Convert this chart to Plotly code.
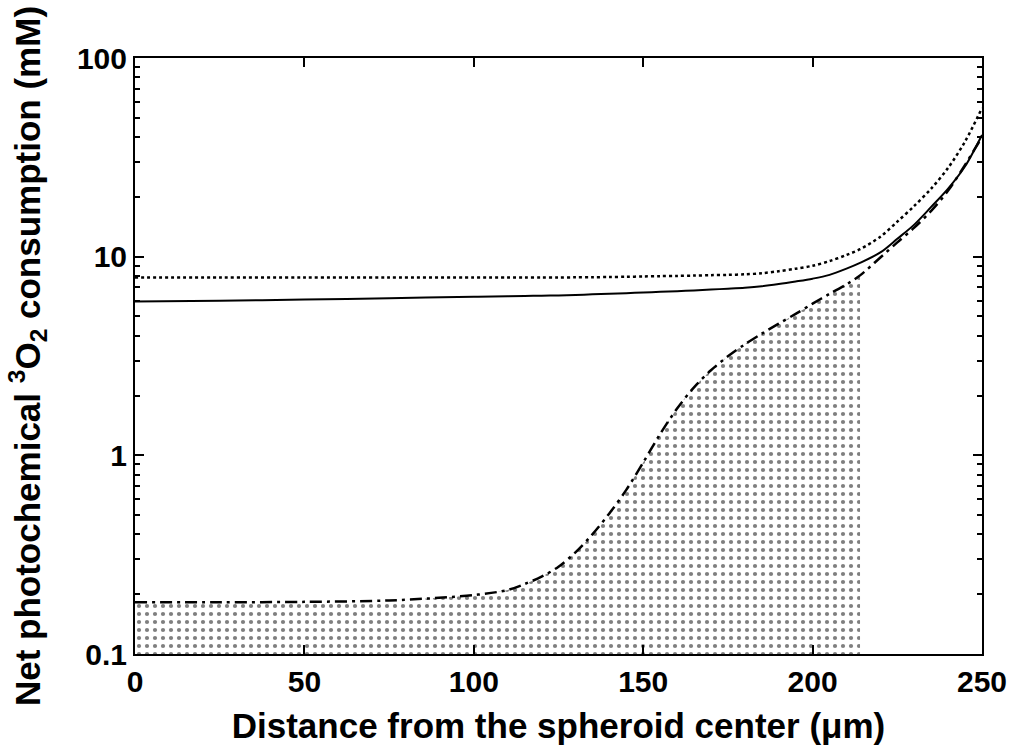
import plotly.graph_objects as go

# Distance from spheroid center (um)
distance = [0, 25, 50, 75, 100, 110, 115, 120, 125, 130, 135, 140, 145, 150, 155, 160,
            165, 170, 175, 180, 185, 190, 195, 200, 205, 210, 214, 220, 225, 230,
            235, 240, 245, 250]

# Net photochemical 3O2 consumption (mM)
solid_vals = [5.94, 6.0, 6.08, 6.18, 6.28, 6.32, 6.34, 6.36, 6.38, 6.42, 6.46, 6.5, 6.55,
              6.6, 6.65, 6.7, 6.76, 6.83, 6.9, 6.98, 7.1, 7.28, 7.5, 7.75, 8.1, 8.7,
              9.3, 10.5, 12.3, 14.5, 17.8, 22.0, 28.5, 41.0]
dotted_vals = [7.85, 7.85, 7.85, 7.85, 7.85, 7.85, 7.85, 7.85, 7.85, 7.87, 7.88, 7.9, 7.92,
               7.95, 7.98, 8.0, 8.03, 8.07, 8.1, 8.15, 8.25, 8.45, 8.7, 9.0, 9.5,
               10.2, 10.9, 12.6, 15.0, 18.0, 22.0, 28.0, 38.0, 56.0]
dashdot_vals = [0.182, 0.182, 0.183, 0.186, 0.198, 0.21, 0.225, 0.245, 0.275, 0.325, 0.40,
                0.51, 0.67, 0.92, 1.28, 1.72, 2.2, 2.68, 3.15, 3.62, 4.1, 4.6, 5.15,
                5.8, 6.5, 7.25, 8.05, 9.9, 11.8, 14.0, 17.0, 21.5, 29.0, 40.0]

fill_end = 214  # shaded region ends here (um)

x_ticks = [0, 50, 100, 150, 200, 250]
y_ticks = [0.1, 1, 10, 100]
y_tick_labels = ["0.1", "1", "10", "100"]
y_minor_ticks = [m * d for d in (0.1, 1, 10) for m in range(2, 10)]
x_range = [0, 250]
y_min, y_max = 0.1, 100

fill_x = [d for d in distance if d <= fill_end]
fill_y = [v for d, v in zip(distance, dashdot_vals) if d <= fill_end]

FONT = "Liberation Sans, Arial, Helvetica, sans-serif"
SPL = dict(shape="spline", smoothing=0.9)

fig = go.Figure()
fig.add_trace(go.Scatter(x=fill_x, y=[y_min] * len(fill_x), mode="lines",
                         line=dict(width=0), hoverinfo="skip", showlegend=False))
fig.add_trace(go.Scatter(x=fill_x, y=fill_y, mode="lines", fill="tonexty",
                         line=dict(width=0, **SPL), fillcolor="rgba(0,0,0,0)",
                         fillpattern=dict(shape=".", fgcolor="black", bgcolor="white",
                                          size=8, solidity=0.22),
                         hoverinfo="skip", showlegend=False))
fig.add_trace(go.Scatter(x=distance, y=dotted_vals, mode="lines",
                         line=dict(color="black", width=2.5, dash="dot", **SPL),
                         showlegend=False))
fig.add_trace(go.Scatter(x=distance, y=solid_vals, mode="lines",
                         line=dict(color="black", width=2, **SPL), showlegend=False))
fig.add_trace(go.Scatter(x=distance, y=dashdot_vals, mode="lines",
                         line=dict(color="black", width=2.5, dash="12px,5px,3px,5px", **SPL),
                         showlegend=False))

fig.update_layout(
    width=1019, height=751,
    margin=dict(l=135, r=36, t=58, b=94),
    paper_bgcolor="white", plot_bgcolor="white",
    font=dict(family=FONT, color="black", size=30, weight="bold"),
)
fig.update_xaxes(
    range=x_range, tickvals=x_ticks, ticks="inside", ticklen=9, tickwidth=2,
    tickcolor="black", showline=True, linecolor="black", linewidth=2,
    mirror="allticks", showgrid=False, zeroline=False,
    tickfont=dict(size=30, family=FONT, weight="bold"),
    title=dict(text="Distance from the spheroid center (μm)",
               font=dict(size=35, family=FONT, weight="bold"), standoff=16),
)
fig.update_yaxes(
    type="log", range=[-1, 2], tickvals=y_ticks, ticktext=y_tick_labels,
    ticks="inside", ticklen=9, tickwidth=2, tickcolor="black",
    minor=dict(tickvals=y_minor_ticks, ticks="inside", ticklen=5, tickwidth=2,
               tickcolor="black", showgrid=False),
    showline=True, linecolor="black", linewidth=2, mirror="allticks",
    showgrid=False, zeroline=False,
    tickfont=dict(size=30, family=FONT, weight="bold"),
    title=dict(text="Net photochemical <sup>3</sup>O<sub>2</sub> consumption (mM)",
               font=dict(size=35, family=FONT, weight="bold"), standoff=26),
)

fig.write_html("out.html")
